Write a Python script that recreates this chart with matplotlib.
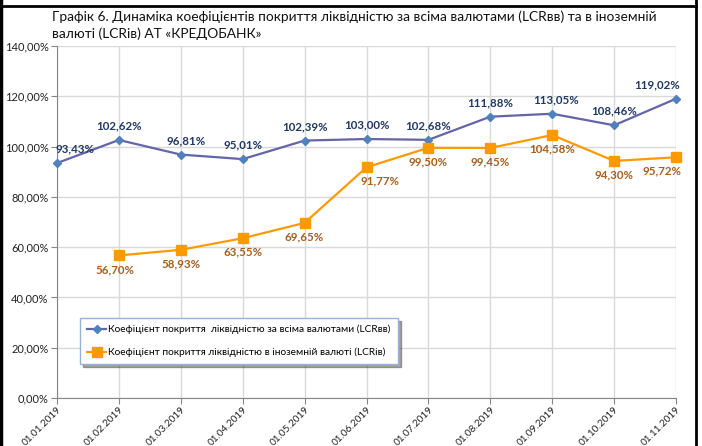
import matplotlib.pyplot as plt
import matplotlib.lines as mlines
import numpy as np

plt.rcParams['font.family'] = ['Lato', 'DejaVu Sans']

# chart data
dates = ['01.01.2019', '01.02.2019', '01.03.2019', '01.04.2019', '01.05.2019',
         '01.06.2019', '01.07.2019', '01.08.2019', '01.09.2019', '01.10.2019',
         '01.11.2019']
lcr_all = [93.43, 102.62, 96.81, 95.01, 102.39, 103.00, 102.68, 111.88, 113.05, 108.46, 119.02]
lcr_fx = [np.nan, 56.70, 58.93, 63.55, 69.65, 91.77, 99.50, 99.45, 104.58, 94.30, 95.72]
y_ticks = [0, 20, 40, 60, 80, 100, 120, 140]

title = ('Графік 6. Динаміка коефіцієнтів покриття ліквідністю за всіма валютами (LCRвв) та в іноземній\n'
         'валюті (LCRів) АТ «КРЕДОБАНК»')
name_all = 'Коефіцієнт покриття  ліквідністю за всіма валютами (LCRвв)'
name_fx = 'Коефіцієнт покриття ліквідністю в іноземній валюті (LCRів)'


def pct(v):
    return f'{v:.2f}'.replace('.', ',') + '%'


fig = plt.figure(figsize=(7.02, 4.46), dpi=100)
ax = fig.add_axes([0.0812, 0.1076, 0.8818, 0.7893])

x = np.arange(len(dates))
ax.plot(x, lcr_all, color='#6464A8', lw=1.6, marker='D', ms=4.5,
        mfc='#4F81BD', mec='#4F81BD', label=name_all, zorder=3, clip_on=False)
ax.plot(x, lcr_fx, color='#FF9900', lw=1.6, marker='s', ms=7,
        mfc='#FF9900', mec='#FF9900', label=name_fx, zorder=3, clip_on=False)

# data labels (small horizontal nudges like the original)
dx_all = {0: 18, 2: 5, 8: 4, 10: -19}
for i, v in enumerate(lcr_all):
    ax.annotate(pct(v), (x[i], v), xytext=(dx_all.get(i, 0), 14),
                textcoords='offset pixels', ha='center', va='center',
                fontsize=8.3, fontweight='bold', color='#1F3864')
dx_fx = {1: -4, 5: 13, 10: -14}
for i, v in enumerate(lcr_fx):
    if np.isnan(v):
        continue
    ax.annotate(pct(v), (x[i], v), xytext=(dx_fx.get(i, 0), -14),
                textcoords='offset pixels', ha='center', va='center',
                fontsize=8.3, fontweight='bold', color='#A65E1E')

ax.set_xlim(0, len(dates) - 1)
ax.set_ylim(0, 140)
ax.set_yticks(y_ticks)
ax.set_yticklabels([pct(t) for t in y_ticks], fontsize=8, color='#222222')
ax.set_xticks(x)
ax.set_xticklabels(dates, rotation=45, ha='right', rotation_mode='anchor',
                   fontsize=7.2, color='#222222')
ax.tick_params(axis='both', length=4, color='#868686', pad=2)
ax.tick_params(axis='x', pad=1)
ax.grid(True, color='#D9D9D9', lw=1)
ax.set_axisbelow(True)
for s in ['top', 'right']:
    ax.spines[s].set_visible(False)
for s in ['left', 'bottom']:
    ax.spines[s].set_color('#868686')

leg = ax.legend(loc='upper left', bbox_to_anchor=(0.037, 0.228), fontsize=7.3,
                frameon=True, fancybox=False, shadow=True, borderpad=0.7,
                labelspacing=1.3, handlelength=1.9, handletextpad=0.2,
                borderaxespad=0)
leg.get_frame().set_edgecolor('#95B3D7')
leg.get_frame().set_linewidth(1)

fig.text(52 / 702, 1 - 10 / 446, title, fontsize=9.9, va='top', ha='left',
         linespacing=1.45, color='#111111')

# outer black frame
fig.add_artist(mlines.Line2D([0.002, 0.002], [0, 1], color='black', lw=2.5, transform=fig.transFigure))
fig.add_artist(mlines.Line2D([0.002, 0.991], [1 - 6 / 446, 1 - 6 / 446], color='black', lw=2, transform=fig.transFigure))
fig.add_artist(mlines.Line2D([0.991, 0.991], [0, 1], color='black', lw=2, transform=fig.transFigure))

fig.savefig('out.png', dpi=100)
